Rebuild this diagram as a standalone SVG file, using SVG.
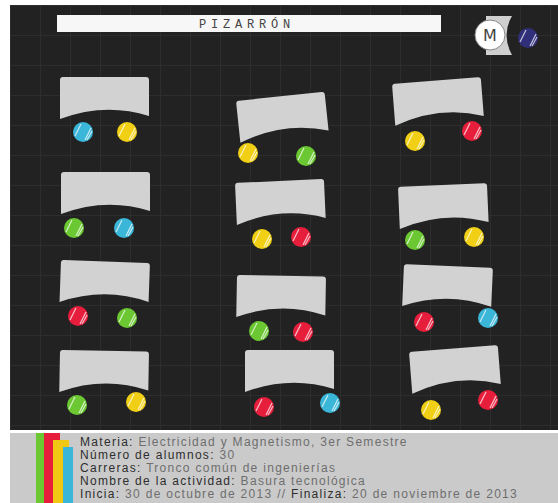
<svg xmlns="http://www.w3.org/2000/svg" xmlns:xlink="http://www.w3.org/1999/xlink" width="558" height="503" viewBox="0 0 558 503">
<style>
.desk{fill:#d2d2d2}
.lbl{font-family:"Liberation Sans",Arial,sans-serif;font-size:12px;letter-spacing:1.3px;fill:#2e2e2e}
.val{fill:#6e6e6e}
.str{fill:none;stroke:#ffffff;stroke-opacity:0.7;stroke-width:1.2}
</style>
<defs>
<pattern id="grid" x="10" y="5" width="30" height="30" patternUnits="userSpaceOnUse">
<rect width="30" height="30" fill="#222222"/>
<path d="M0,0.5H30M0.5,0V30" stroke="#2d2d2d" stroke-width="1"/>
</pattern>
<path id="deskShape" d="M0,3 Q0,0 3,0 L86,0 Q89,0 89,3 L89,39 Q45,25 0,42 Z"/>
<g id="stripes">
<path class="str" d="M-8,4 L-2,-8"/>
<path class="str" d="M2,8 L8,-4"/>
<path class="str" d="M4,8 L9,-1"/>
</g>
</defs>
<rect x="10" y="5" width="548" height="425" fill="url(#grid)"/>
<rect x="10" y="430" width="548" height="3" fill="#ffffff"/>
<rect x="10" y="433" width="548" height="70" fill="#cacaca"/>

<g id="board">
<rect x="57" y="15" width="384" height="17" fill="#f7f7f7"/>
<text x="199" y="28" font-family="Liberation Mono,monospace" font-size="12" letter-spacing="4.8" fill="#444">PIZARRÓN</text>
</g>

<g id="teacher">
<path d="M486,16 L512,16 Q501,35 512,55 L486,55 Z" fill="#cfcfcf"/>
<circle cx="490" cy="35" r="15" fill="#ffffff" stroke="#888" stroke-width="1"/>
<text x="490" y="41" text-anchor="middle" font-family="DejaVu Sans,sans-serif" font-size="16" fill="#444">M</text>
<circle cx="528" cy="38" r="10" fill="#30307a"/>
<use xlink:href="#stripes" transform="translate(528,38)"/>
</g>

<g id="desks">
<g id="d1"><use xlink:href="#deskShape" class="desk" transform="translate(60,77)"/>
<circle cx="83" cy="132" r="10" fill="#3ab6d8"/><use xlink:href="#stripes" transform="translate(83,132)"/>
<circle cx="127" cy="132" r="10" fill="#f0cf14"/><use xlink:href="#stripes" transform="translate(127,132)"/></g>

<g id="d2"><use xlink:href="#deskShape" class="desk" transform="translate(236,101) rotate(-6)"/>
<circle cx="248" cy="153" r="10" fill="#f0cf14"/><use xlink:href="#stripes" transform="translate(248,153)"/>
<circle cx="306" cy="156" r="10" fill="#6cc832"/><use xlink:href="#stripes" transform="translate(306,156)"/></g>

<g id="d3"><use xlink:href="#deskShape" class="desk" transform="translate(392,84) rotate(-4.5)"/>
<circle cx="415" cy="141" r="10" fill="#f0cf14"/><use xlink:href="#stripes" transform="translate(415,141)"/>
<circle cx="472" cy="131" r="10" fill="#e61e3c"/><use xlink:href="#stripes" transform="translate(472,131)"/></g>

<g id="d4"><use xlink:href="#deskShape" class="desk" transform="translate(61,172)"/>
<circle cx="74" cy="228" r="10" fill="#6cc832"/><use xlink:href="#stripes" transform="translate(74,228)"/>
<circle cx="124" cy="228" r="10" fill="#3ab6d8"/><use xlink:href="#stripes" transform="translate(124,228)"/></g>

<g id="d5"><use xlink:href="#deskShape" class="desk" transform="translate(235,183) rotate(-2.6)"/>
<circle cx="262" cy="239" r="10" fill="#f0cf14"/><use xlink:href="#stripes" transform="translate(262,239)"/>
<circle cx="301" cy="237" r="10" fill="#e61e3c"/><use xlink:href="#stripes" transform="translate(301,237)"/></g>

<g id="d6"><use xlink:href="#deskShape" class="desk" transform="translate(398,187) rotate(-2.5)"/>
<circle cx="415" cy="240" r="10" fill="#6cc832"/><use xlink:href="#stripes" transform="translate(415,240)"/>
<circle cx="474" cy="237" r="10" fill="#f0cf14"/><use xlink:href="#stripes" transform="translate(474,237)"/></g>

<g id="d7"><use xlink:href="#deskShape" class="desk" transform="translate(61,260) rotate(2)"/>
<circle cx="78" cy="316" r="10" fill="#e61e3c"/><use xlink:href="#stripes" transform="translate(78,316)"/>
<circle cx="127" cy="318" r="10" fill="#6cc832"/><use xlink:href="#stripes" transform="translate(127,318)"/></g>

<g id="d8"><use xlink:href="#deskShape" class="desk" transform="translate(237,275) rotate(1)"/>
<circle cx="259" cy="331" r="10" fill="#6cc832"/><use xlink:href="#stripes" transform="translate(259,331)"/>
<circle cx="303" cy="332" r="10" fill="#e61e3c"/><use xlink:href="#stripes" transform="translate(303,332)"/></g>

<g id="d9"><use xlink:href="#deskShape" class="desk" transform="translate(404,264) rotate(2.5)"/>
<circle cx="424" cy="322" r="10" fill="#e61e3c"/><use xlink:href="#stripes" transform="translate(424,322)"/>
<circle cx="488" cy="318" r="10" fill="#3ab6d8"/><use xlink:href="#stripes" transform="translate(488,318)"/></g>

<g id="d10"><use xlink:href="#deskShape" class="desk" transform="translate(60,350) rotate(1)"/>
<circle cx="77" cy="405" r="10" fill="#6cc832"/><use xlink:href="#stripes" transform="translate(77,405)"/>
<circle cx="136" cy="402" r="10" fill="#f0cf14"/><use xlink:href="#stripes" transform="translate(136,402)"/></g>

<g id="d11"><use xlink:href="#deskShape" class="desk" transform="translate(245,350)"/>
<circle cx="264" cy="407" r="10" fill="#e61e3c"/><use xlink:href="#stripes" transform="translate(264,407)"/>
<circle cx="330" cy="403" r="10" fill="#3ab6d8"/><use xlink:href="#stripes" transform="translate(330,403)"/></g>

<g id="d12"><use xlink:href="#deskShape" class="desk" transform="translate(409,352) rotate(-4.5)"/>
<circle cx="431" cy="410" r="10" fill="#f0cf14"/><use xlink:href="#stripes" transform="translate(431,410)"/>
<circle cx="488" cy="400" r="10" fill="#e61e3c"/><use xlink:href="#stripes" transform="translate(488,400)"/></g>
</g>

<g id="info">
<rect x="36" y="433" width="9" height="70" fill="#6cc832"/>
<rect x="44" y="433" width="16" height="70" fill="#e61e3c"/>
<rect x="53" y="440" width="16" height="63" fill="#f0c814"/>
<rect x="63" y="447" width="10" height="56" fill="#3ab6d8"/>
<text class="lbl" x="80" y="446">Materia: <tspan class="val">Electricidad y Magnetismo, 3er Semestre</tspan></text>
<text class="lbl" x="80" y="459">Número de alumnos: <tspan class="val">30</tspan></text>
<text class="lbl" x="80" y="472">Carreras: <tspan class="val">Tronco común de ingenierías</tspan></text>
<text class="lbl" x="80" y="485">Nombre de la actividad: <tspan class="val">Basura tecnológica</tspan></text>
<text class="lbl" x="80" y="498">Inicia: <tspan class="val">30 de octubre de 2013 // </tspan>Finaliza: <tspan class="val">20 de noviembre de 2013</tspan></text>
</g>
</svg>
